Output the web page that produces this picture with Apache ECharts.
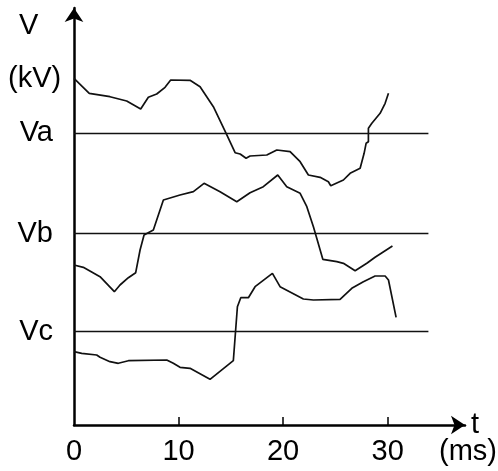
<!DOCTYPE html>
<html><head><meta charset="utf-8">
<script src="https://cdn.jsdelivr.net/npm/echarts@6/dist/echarts.min.js"></script>
<style>html,body{margin:0;padding:0;background:#fff}#c{width:498px;height:471px}</style>
</head><body><div id="c"></div>
<script>
// time (ms) and voltage (arbitrary offset units)
const xTicks = [0, 10, 20, 30];
const levelNames = ['Va', 'Vb', 'Vc'];
const levels = [29.17, 19.15, 9.33];
const levelEnd = 33.9;

const va = [[0,34.67],[1.46,33.17],[3.44,32.83],[5.04,32.4],[6.38,31.6],[7.11,32.77],[7.91,33.1],[8.71,33.77],[9.25,34.5],[11.1,34.47],[12.06,33.83],[13.33,31.83],[14.55,29.17],[15.41,27.23],[15.89,27.1],[16.46,26.67],[16.84,26.9],[18.44,27.0],[19.4,27.5],[20.67,27.33],[21.63,26.33],[22.42,25.0],[23.54,24.77],[24.33,24.33],[24.56,23.93],[25.77,24.5],[26.41,25.17],[27.37,25.67],[27.75,27.17],[27.94,28.17],[28.16,28.33],[28.16,29.67],[28.49,30.17],[29.28,31.17],[29.76,32.17],[30.08,33.17]];
const vb = [[0,16.0],[0.89,15.77],[2.49,14.83],[3.86,13.33],[4.4,14.0],[5.2,14.73],[5.9,15.23],[6.32,17.5],[6.7,19.0],[7.59,19.5],[8.55,22.5],[10.14,23.0],[11.42,23.33],[12.44,24.17],[13.97,23.33],[15.57,22.33],[16.84,23.23],[18.11,23.83],[19.49,25.0],[20.35,23.83],[21.63,23.17],[22.27,21.83],[22.9,19.83],[23.22,18.67],[23.8,16.57],[25.14,16.33],[25.77,16.17],[26.89,15.43],[28.01,16.17],[28.8,16.77],[30.46,17.9]];
const vc = [[0,7.33],[0.74,7.17],[2.17,7.0],[2.49,6.77],[3.44,6.33],[4.24,6.17],[5.2,6.43],[8.87,6.5],[9.5,6.17],[10.14,5.77],[11.1,5.67],[13.01,4.57],[15.24,6.43],[15.63,11.83],[15.95,12.73],[16.68,12.73],[17.32,13.83],[18.98,15.17],[19.71,13.83],[21.94,12.6],[22.9,12.5],[25.45,12.57],[26.57,13.67],[27.68,14.33],[28.8,14.9],[29.76,14.9],[30.08,14.5],[30.81,10.77]];

const FONT = 'Liberation Sans, Arial, sans-serif';
const chart = echarts.init(document.getElementById('c'), null, {renderer: 'canvas'});

function curve(data, idx) {
  return {
    type: 'line', data: data, showSymbol: false, symbol: 'none',
    lineStyle: {color: '#111', width: 1.7}, z: 3, silent: true,
    markLine: {
      silent: true, symbol: 'none', animation: false,
      lineStyle: {color: '#111', width: 1.4, type: 'solid'},
      label: {show: true, position: 'start', formatter: levelNames[idx], fontSize: 29,
              fontFamily: FONT, color: '#000', distance: 21},
      data: [[{coord: [0, levels[idx]]}, {coord: [levelEnd, levels[idx]]}]]
    }
  };
}

chart.setOption({
  animation: false,
  backgroundColor: '#fff',
  grid: {left: 74, right: 33, top: 8, bottom: 46, containLabel: false},
  xAxis: {
    type: 'value', min: 0, max: 37.4, interval: 10,
    name: 't', nameLocation: 'end', nameGap: 6,
    nameTextStyle: {fontSize: 29, fontFamily: FONT, color: '#000', verticalAlign: 'middle', padding: [0,0,6,0]},
    axisLine: {show: true, lineStyle: {color: '#000', width: 2.5}, symbol: ['none', 'arrow'], symbolSize: [14, 14]},
    axisTick: {show: true, inside: true, length: 8, lineStyle: {color: '#000', width: 1.5}, customValues: [10, 20, 30]},
    axisLabel: {fontSize: 29, fontFamily: FONT, color: '#000', margin: 12, customValues: xTicks},
    splitLine: {show: false}
  },
  yAxis: {
    type: 'value', min: 0, max: 41.7,
    axisLine: {show: true, lineStyle: {color: '#000', width: 2.5}, symbol: ['none', 'arrow'], symbolSize: [14, 14]},
    axisTick: {show: false}, axisLabel: {show: false}, splitLine: {show: false}
  },
  graphic: [
    {type: 'text', left: 19, top: 11, style: {text: 'V', fontSize: 29, fontFamily: FONT, fill: '#000'}},
    {type: 'text', left: 8, top: 64, style: {text: '(kV)', fontSize: 29, fontFamily: FONT, fill: '#000'}},
    {type: 'text', left: 439, top: 437, style: {text: '(ms)', fontSize: 29, fontFamily: FONT, fill: '#000'}}
  ],
  series: [curve(va, 0), curve(vb, 1), curve(vc, 2)]
});
</script></body></html>
